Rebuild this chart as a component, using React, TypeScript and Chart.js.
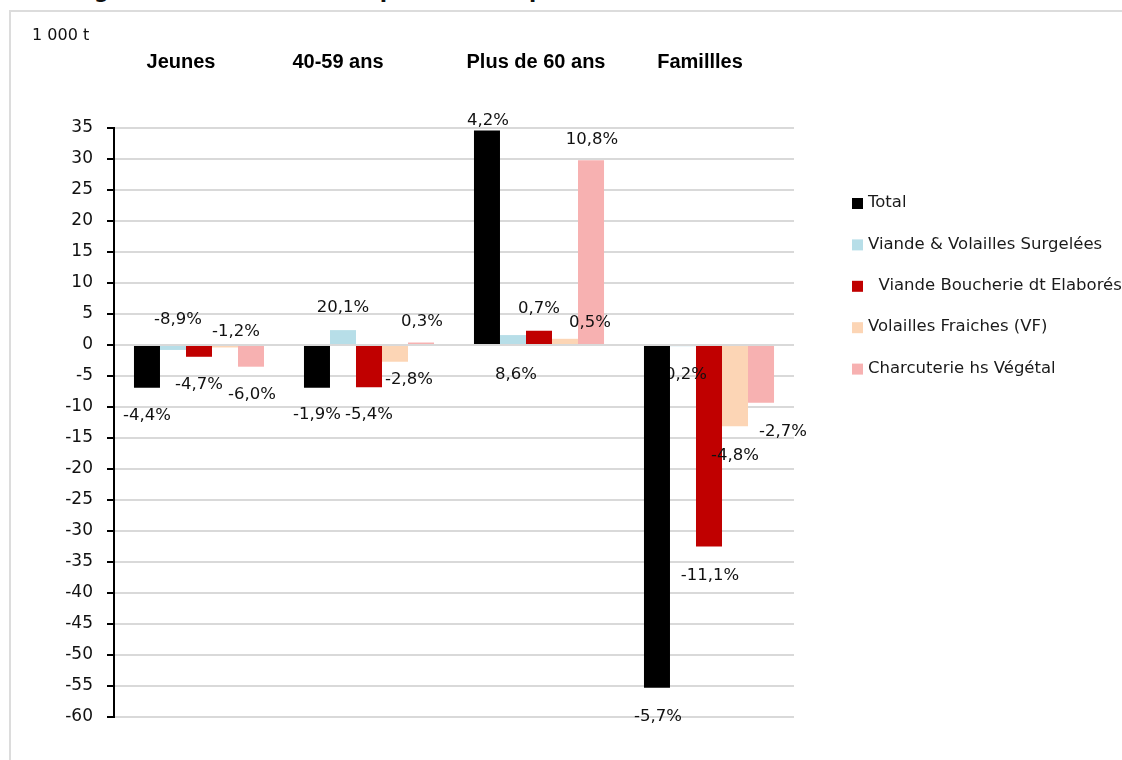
import React, { useEffect, useRef } from 'react';
import { Chart, registerables } from 'chart.js';

Chart.register(...registerables);

// ---------- data ----------
const categories = ['Jeunes', '40-59 ans', 'Plus de 60 ans', 'Famillles'];
const seriesNames = [
  'Total',
  'Viande & Volailles Surgelées',
  '  Viande Boucherie dt Elaborés',
  'Volailles Fraiches (VF)',
  'Charcuterie hs Végétal',
];
const totalValues = [-6.9, -6.9, 34.6, -55.3];
const surgeleesValues = [-0.8, 2.4, 1.6, -0.2];
const boucherieValues = [-1.9, -6.8, 2.3, -32.5];
const volaillesValues = [-0.4, -2.7, 1.0, -13.1];
const charcuterieValues = [-3.5, 0.4, 29.8, -9.3];

const totalLabels = ['-4,4%', '-1,9%', '4,2%', '-5,7%'];
const surgeleesLabels = ['-8,9%', '20,1%', '8,6%', '-0,2%'];
const boucherieLabels = ['-4,7%', '-5,4%', '0,7%', '-11,1%'];
const volaillesLabels = ['-1,2%', '-2,8%', '0,5%', '-4,8%'];
const charcuterieLabels = ['-6,0%', '0,3%', '10,8%', '-2,7%'];

const yMin = -60;
const yMax = 35;
const yStep = 5;
const unitLabel = '1 000 t';
const titleText =
  'Figure 21 : Variation des quantités de produits carnés achetées entre 2019 et 2022';

// ---------- styles ----------
const seriesColors = ['#000000', '#b7dee8', '#c00000', '#fcd5b5', '#f7b1b1'];
const FONT = '"DejaVu Sans", "Noto Sans", sans-serif';
// label offsets (px) from the bar tip
const labelDx = [
  [0, 0, 1, 1],
  [5, 0, 3, 0],
  [0, 0, 0, 1],
  [11, 14, 25, 0],
  [1, 1, 1, 22],
];
const labelDy = [
  [28, 27, -10, 29],
  [-30, -22, 40, 28],
  [28, 28, -22, 29],
  [-16, 18, -16, 29],
  [28, -21, -21, 29],
];
const headerDx = [-18, -31, -3, -9];

const allValues = [totalValues, surgeleesValues, boucherieValues, volaillesValues, charcuterieValues];
const allLabels = [totalLabels, surgeleesLabels, boucherieLabels, volaillesLabels, charcuterieLabels];

function drawLabels(chart: any, i: number) {
  const meta = chart.getDatasetMeta(i);
  const ctx = chart.ctx;
  ctx.save();
  ctx.font = `16.5px ${FONT}`;
  ctx.fillStyle = '#111';
  ctx.textAlign = 'center';
  ctx.textBaseline = 'middle';
  meta.data.forEach((bar: any, j: number) => {
    ctx.fillText(allLabels[i][j], bar.x + labelDx[i][j], bar.y + labelDy[i][j]);
  });
  ctx.restore();
}

const decorPlugin = {
  id: 'decor',
  afterDatasetDraw(chart: any, args: any) {
    if (args.index === 1) drawLabels(chart, 1);
  },
  afterDatasetsDraw(chart: any) {
    [0, 2, 3, 4].forEach((i) => drawLabels(chart, i));
  },
  afterDraw(chart: any) {
    const ctx = chart.ctx;
    const xs = chart.scales.x;
    ctx.save();
    // unit
    ctx.font = `16px ${FONT}`;
    ctx.fillStyle = '#111';
    ctx.textAlign = 'left';
    ctx.textBaseline = 'middle';
    ctx.fillText(unitLabel, 32, 36);
    // headers
    ctx.font = 'bold 20px "Liberation Sans", Arial, sans-serif';
    ctx.textAlign = 'center';
    ctx.fillStyle = '#000';
    categories.forEach((c, i) => {
      ctx.fillText(c, xs.getPixelForValue(i) + headerDx[i], 62);
    });
    // legend
    ctx.font = `16.5px ${FONT}`;
    ctx.textAlign = 'left';
    seriesNames.forEach((n, i) => {
      const y = 203 + i * 41.4;
      ctx.fillStyle = seriesColors[i];
      ctx.fillRect(852, y - 5, 11, 11);
      ctx.fillStyle = '#1a1a1a';
      ctx.fillText(n, 868, y);
    });
    ctx.restore();
  },
};

export default function App() {
  const ref = useRef<HTMLCanvasElement>(null);
  useEffect(() => {
    if (!ref.current) return;
    const chart = new Chart(ref.current, {
      type: 'bar',
      data: {
        labels: categories,
        datasets: seriesNames.map((n, i) => ({
          label: n,
          data: allValues[i],
          backgroundColor: seriesColors[i],
          borderWidth: 0,
          categoryPercentage: 0.765,
          barPercentage: 1,
        })),
      },
      options: {
        responsive: false,
        animation: false,
        devicePixelRatio: 1,
        layout: { padding: { left: 0, top: 128, right: 328, bottom: 43 } },
        plugins: { legend: { display: false }, tooltip: { enabled: false }, title: { display: false } },
        scales: {
          x: { display: false, offset: true },
          y: {
            min: yMin,
            max: yMax,
            afterFit: (s: any) => {
              s.width = 114;
            },
            ticks: {
              stepSize: yStep,
              color: '#111',
              font: { family: FONT, size: 17 },
              padding: 14,
            },
            grid: {
              color: '#d9d9d9',
              lineWidth: 2,
              tickColor: '#000',
              tickLength: 7,
              tickWidth: 2,
            },
            border: { display: true, color: '#000', width: 2 },
          },
        },
      },
      plugins: [decorPlugin],
    });
    return () => chart.destroy();
  }, []);

  return (
    <div
      style={{
        position: 'fixed',
        left: 0,
        top: 0,
        width: 1122,
        height: 760,
        overflow: 'hidden',
        background: '#fff',
      }}
    >
      <div
        style={{
          position: 'absolute',
          right: 59,
          top: -19,
          whiteSpace: 'nowrap',
          font: 'bold 21px "DejaVu Sans", sans-serif',
          lineHeight: '21px',
          color: '#111',
        }}
      >
        {titleText}
      </div>
      <div
        style={{
          position: 'absolute',
          left: 9,
          top: 10,
          width: 1300,
          height: 900,
          border: '2px solid #dcdcdc',
        }}
      />
      <canvas
        ref={ref}
        width={1122}
        height={760}
        style={{ position: 'absolute', left: 0, top: 0, width: 1122, height: 760 }}
      />
    </div>
  );
}
